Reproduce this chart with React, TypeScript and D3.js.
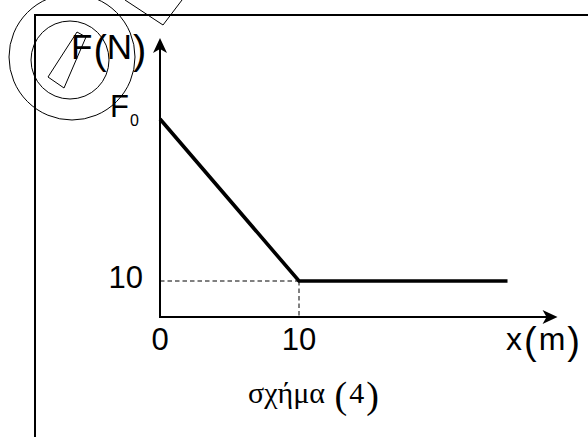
import React from "react";
import * as d3 from "d3";

// Force–displacement graph: F falls linearly from F0 to 10 N at x = 10 m, then stays constant.
const xValues = [0, 10, 25];
const forceValues = [55, 10, 10];

const xTickValues = [0, 10];
const xTickLabels = ["0", "10"];
const yTickValues = [10, 55];
const yTickLabels = ["10", "F_0"];

const xAxisEnd = 28.6;
const yAxisEnd = 77.5;

const W = 588;
const H = 437;

function TickLabel({ text, ...rest }: { text: string; [k: string]: any }) {
  const [main, sub] = text.split("_");
  return (
    <text {...rest}>
      {main}
      {sub !== undefined && (
        <tspan fontSize={16} dy={9} dx={1}>
          {sub}
        </tspan>
      )}
    </text>
  );
}

export default function App() {
  const x = d3.scaleLinear().domain([0, 10]).range([160, 299]);
  const y = d3.scaleLinear().domain([0, 10]).range([317, 281]);

  const pts = xValues.map((v, i) => [x(v), y(forceValues[i])] as [number, number]);
  const line = d3.line()(pts) || "";

  const x0 = x(0);
  const y0 = y(0);
  const xTip = x(xAxisEnd);
  const yTip = y(yAxisEnd);
  const sans = "'Liberation Sans', Arial, sans-serif";
  const serif = "'Liberation Serif', 'DejaVu Serif', serif";

  return (
    <svg
      width={W}
      height={H}
      style={{ position: "absolute", left: 0, top: 0, background: "#fff" }}
    >
      {/* frame */}
      <path d={`M35,${H} L35,15 L${W},15`} fill="none" stroke="#000" strokeWidth={2} />

      {/* pen marks at the top-left */}
      <circle cx={72} cy={57} r={63} fill="none" stroke="#000" strokeWidth={1} />
      <circle cx={70} cy={60} r={39} fill="none" stroke="#000" strokeWidth={1} />
      <path
        d="M77,32 L86,37 L64,88 L48,77 Z"
        fill="none"
        stroke="#000"
        strokeWidth={1}
      />
      <path d="M125,0 L163,25 L182,0" fill="none" stroke="#000" strokeWidth={1} />

      {/* guide lines */}
      <line
        x1={x0}
        x2={x(10)}
        y1={y(10)}
        y2={y(10)}
        stroke="#000"
        strokeWidth={1}
        strokeDasharray="4.5 3"
      />
      <line
        x1={x(10)}
        x2={x(10)}
        y1={y(10)}
        y2={y0}
        stroke="#000"
        strokeWidth={1}
        strokeDasharray="4.5 3"
      />

      {/* axes */}
      <line x1={x0} x2={x0} y1={y0} y2={yTip + 10} stroke="#000" strokeWidth={2} />
      <path
        d={`M${x0},${yTip} L${x0 - 7},${yTip + 15} L${x0},${yTip + 11} L${x0 + 7},${yTip + 15} Z`}
        fill="#000"
      />
      <line x1={x0 - 1} x2={xTip - 10} y1={y0} y2={y0} stroke="#000" strokeWidth={2} />
      <path
        d={`M${xTip},${y0} L${xTip - 15},${y0 - 7} L${xTip - 11},${y0} L${xTip - 15},${y0 + 7} Z`}
        fill="#000"
      />

      {/* F(x) */}
      <path d={line} fill="none" stroke="#000" strokeWidth={3.6} strokeLinejoin="miter" />

      {/* tick labels */}
      {xTickValues.map((v, i) => (
        <text
          key={`x${v}`}
          x={x(v)}
          y={350}
          textAnchor="middle"
          style={{ fontFamily: sans }}
          fontSize={31}
        >
          {xTickLabels[i]}
        </text>
      ))}
      {yTickValues.map((v, i) => (
        <TickLabel
          key={`y${v}`}
          text={yTickLabels[i]}
          x={i === 0 ? 143 : 110}
          y={y(v) + (i === 0 ? 7 : -2)}
          textAnchor={i === 0 ? "end" : "start"}
          style={{ fontFamily: sans }}
          fontSize={31}
        />
      ))}

      {/* axis titles */}
      <text x={71} y={59} style={{ fontFamily: sans }} fontSize={35}>
        F
        <tspan fontSize={40} dy={5} dx={1}>(</tspan>
        <tspan dy={-5}>N</tspan>
        <tspan fontSize={40} dy={5} dx={1}>)</tspan>
      </text>
      <text x={506} y={350} style={{ fontFamily: sans }} fontSize={32}>
        x
        <tspan fontSize={38} dy={4} dx={2}>(</tspan>
        <tspan dy={-4} dx={2}>m</tspan>
        <tspan fontSize={38} dy={4} dx={2}>)</tspan>
      </text>

      {/* caption */}
      <text x={248} y={403} style={{ fontFamily: serif }} fontSize={30}>
        σχήμα{" "}
        <tspan fontSize={38} dy={5} dx={2}>(</tspan>
        <tspan dy={-5} dx={2}>4</tspan>
        <tspan fontSize={38} dy={5} dx={2}>)</tspan>
      </text>
    </svg>
  );
}
